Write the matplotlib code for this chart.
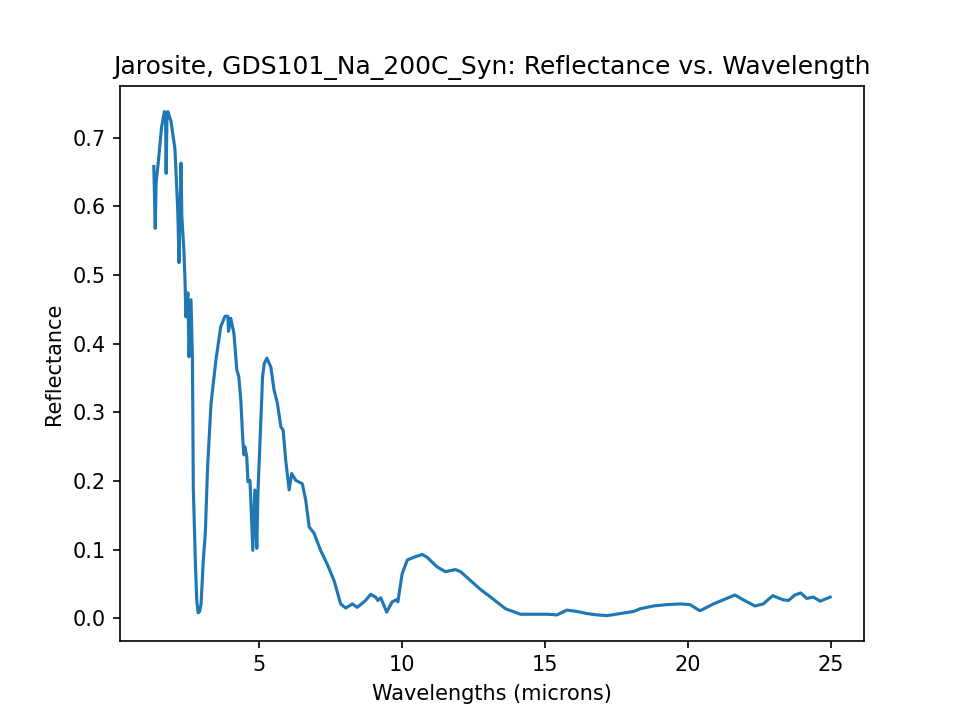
import matplotlib
matplotlib.use("Agg")
import matplotlib.pyplot as plt

# values (microns, reflectance)
wavelengths = [
    1.33, 1.38, 1.41, 1.50, 1.60, 1.70, 1.74, 1.76, 1.79, 1.82, 1.93, 2.07, 2.17,
    2.21, 2.28, 2.31, 2.38, 2.42, 2.45, 2.52, 2.56, 2.63, 2.68, 2.71, 2.78, 2.83,
    2.88, 2.93, 2.98, 3.06, 3.13, 3.21, 3.33, 3.50, 3.67, 3.82, 3.92, 3.94, 4.02,
    4.13, 4.23, 4.30, 4.37, 4.44, 4.48, 4.51, 4.58, 4.62, 4.69, 4.72, 4.79, 4.86,
    4.93, 4.97, 5.03, 5.10, 5.13, 5.19, 5.28, 5.42, 5.53, 5.65, 5.77, 5.85, 5.94,
    6.06, 6.15, 6.29, 6.52, 6.64, 6.76, 6.93, 7.16, 7.40, 7.63, 7.86, 8.04, 8.27,
    8.44, 8.73, 8.91, 9.08, 9.16, 9.26, 9.47, 9.66, 9.81, 9.86, 10.01, 10.19, 10.42,
    10.71, 10.88, 11.23, 11.52, 11.87, 12.05, 12.51, 12.75, 13.10, 13.62, 14.14,
    15.07, 15.42, 15.77, 16.12, 16.47, 16.82, 17.17, 17.63, 18.10, 18.33, 18.79,
    19.26, 19.73, 20.07, 20.42, 20.89, 21.35, 21.64, 21.93, 22.34, 22.63, 22.96,
    23.33, 23.51, 23.74, 23.94, 24.15, 24.38, 24.62, 24.97,
]
reflectance = [
    0.658, 0.568, 0.634, 0.670, 0.715, 0.738, 0.735, 0.648, 0.730, 0.738, 0.724,
    0.683, 0.590, 0.518, 0.663, 0.585, 0.537, 0.493, 0.439, 0.474, 0.381, 0.464,
    0.376, 0.190, 0.085, 0.026, 0.008, 0.010, 0.020, 0.085, 0.124, 0.221, 0.313,
    0.376, 0.425, 0.440, 0.440, 0.418, 0.437, 0.415, 0.362, 0.352, 0.318, 0.260,
    0.238, 0.250, 0.235, 0.199, 0.201, 0.172, 0.099, 0.187, 0.102, 0.184, 0.245,
    0.318, 0.352, 0.371, 0.379, 0.366, 0.333, 0.313, 0.279, 0.274, 0.230, 0.187,
    0.211, 0.201, 0.196, 0.172, 0.133, 0.124, 0.099, 0.078, 0.055, 0.021, 0.015,
    0.021, 0.016, 0.026, 0.035, 0.031, 0.026, 0.030, 0.009, 0.024, 0.027, 0.024,
    0.065, 0.085, 0.089, 0.093, 0.089, 0.075, 0.068, 0.071, 0.068, 0.051, 0.042,
    0.031, 0.014, 0.006, 0.006, 0.005, 0.012, 0.010, 0.007, 0.005, 0.004, 0.007,
    0.010, 0.014, 0.018, 0.020, 0.021, 0.020, 0.011, 0.021, 0.029, 0.034, 0.027,
    0.018, 0.021, 0.033, 0.027, 0.026, 0.034, 0.037, 0.029, 0.031, 0.025, 0.031,
]

fig, ax = plt.subplots(figsize=(6.4, 4.8), dpi=150)
ax.plot(wavelengths, reflectance)
ax.set_title("Jarosite, GDS101_Na_200C_Syn: Reflectance vs. Wavelength")
ax.set_xlabel("Wavelengths (microns)")
ax.set_ylabel("Reflectance")

fig.savefig("out.png")
